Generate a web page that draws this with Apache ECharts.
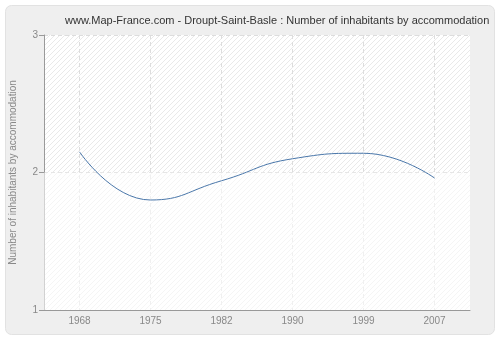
<!DOCTYPE html>
<html>
<head>
<meta charset="utf-8">
<script src="https://cdn.jsdelivr.net/npm/echarts@6/dist/echarts.min.js"></script>
<style>html,body{margin:0;padding:0;background:#fff}#c{width:500px;height:340px}</style>
</head>
<body>
<div id="c"></div>
<script>
const titleText = 'www.Map-France.com - Droupt-Saint-Basle : Number of inhabitants by accommodation';
const yAxisName = 'Number of inhabitants by accommodation';
const years = ['1968', '1975', '1982', '1990', '1999', '2007'];
const values = [2.15, 1.80, 1.94, 2.10, 2.14, 1.96];
const yTicks = [1, 2, 3];

function hatch() {
  const n = 5;
  const c = document.createElement('canvas');
  c.width = n; c.height = n;
  const g = c.getContext('2d');
  g.fillStyle = '#ffffff';
  g.fillRect(0, 0, n, n);
  g.fillStyle = '#e9e9e9';
  for (let i = 0; i < n; i++) g.fillRect(i, n - 1 - i, 1, 1);
  return c;
}

const chart = echarts.init(document.getElementById('c'), null, {renderer: 'canvas'});
const font = 'Liberation Sans';
chart.setOption({
  animation: false,
  backgroundColor: '#ffffff',
  graphic: [{
    type: 'rect', z: -10,
    shape: {x: 5.5, y: 5.5, width: 489, height: 329, r: 6},
    style: {fill: '#efefef', stroke: '#e2e2e2', lineWidth: 1}
  }],
  title: {
    text: titleText, left: 60, top: 10,
    textStyle: {fontFamily: font, fontSize: 11, fontWeight: 'normal', color: '#333'}
  },
  grid: {
    left: 40, right: 30, top: 35, bottom: 30,
    show: true, backgroundColor: {image: hatch(), repeat: 'repeat'},
    borderColor: '#e6e6e6', borderWidth: 0
  },
  xAxis: {
    type: 'category', data: years, boundaryGap: true,
    axisLine: {lineStyle: {color: '#999'}},
    axisTick: {alignWithLabel: true, length: 5, lineStyle: {color: '#999'}},
    axisLabel: {fontFamily: font, fontSize: 10, color: '#888', margin: 6},
    splitLine: {show: true, alignWithLabel: true, lineStyle: {color: '#dddddd', type: [4, 3]}}
  },
  yAxis: {
    type: 'value', min: yTicks[0], max: yTicks[yTicks.length - 1], interval: 1,
    name: yAxisName, nameLocation: 'middle', nameGap: 26,
    nameTextStyle: {fontFamily: font, fontSize: 10, color: '#888'},
    axisLine: {show: true, lineStyle: {color: '#999'}},
    axisTick: {show: true, length: 5, lineStyle: {color: '#999'}},
    axisLabel: {fontFamily: font, fontSize: 10, color: '#888', margin: 6},
    splitLine: {show: true, lineStyle: {color: '#dddddd', type: [4, 3]}}
  },
  series: [{
    type: 'line', data: values, smooth: 0.5, showSymbol: false,
    lineStyle: {color: '#4a77aa', width: 1},
    markArea: {
      silent: true,
      itemStyle: {color: 'rgba(255,255,255,0.55)'},
      data: [[{yAxis: yTicks[0]}, {yAxis: yTicks[1]}]]
    }
  }]
});
</script>
</body>
</html>
